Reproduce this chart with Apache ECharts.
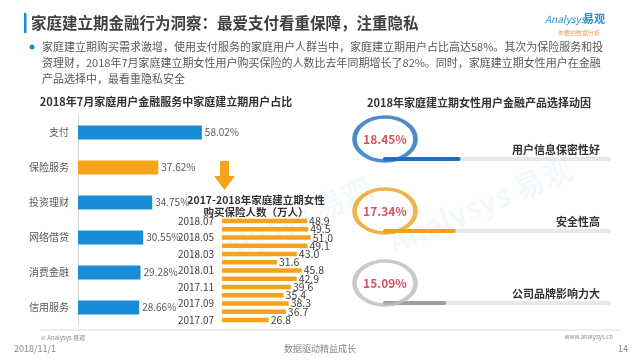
<!DOCTYPE html>
<html><head><meta charset="utf-8">
<script src="https://cdn.jsdelivr.net/npm/echarts@6/dist/echarts.min.js"></script>
<style>html,body{margin:0;padding:0;background:#fff}#c{width:640px;height:360px}</style>
</head><body><div id="c"></div>
<script>
// ---- data ----
const serviceCats = ['支付','保险服务','投资理财','网络借贷','消费金融','信用服务'];
const serviceShare = [58.02, 37.62, 34.75, 30.55, 29.28, 28.66];
const months = ['2018.07','2018.06','2018.05','2018.04','2018.03','2018.02','2018.01','2017.12','2017.11','2017.10','2017.09','2017.08','2017.07'];
const insuredWomen = [48.9, 49.5, 51.0, 49.1, 43.0, 31.6, 45.8, 42.9, 39.6, 35.4, 38.3, 36.7, 26.8];
const motiveCats = ['用户信息保密性好','安全性高','公司品牌影响力大'];
const motiveShare = [18.45, 17.34, 15.09];

const FONT = '"Noto Sans CJK SC","Noto Sans",sans-serif';
const BLUE = '#1a8bd6', ORANGE = '#f6a21d';
const ringColors = ['#1f6fc1', '#f0a01e', '#bdbdbd'];
const progColors = ['#1f6fc1', '#f0a01e', '#9e9e9e'];

const chart = echarts.init(document.getElementById('c'), null, {renderer: 'canvas'});
const txt = (x, y, text, font, fill, align, extra) => Object.assign({
  type: 'text', x, y, silent: true,
  style: {text, font, fill, align: align || 'left', verticalAlign: 'middle'}
}, extra || {});

chart.setOption({
  animation: false,
  textStyle: {fontFamily: FONT},
  grid: [
    {left: 78, top: 115, width: 213.5, height: 210},
    {left: 222, top: 217, width: 174, height: 107},
    {left: 383, top: 123, width: 227, height: 216}
  ],
  xAxis: [
    {gridIndex: 0, type: 'value', min: 0, max: 100, show: false},
    {gridIndex: 1, type: 'value', min: 0, max: 100, show: false},
    {gridIndex: 2, type: 'value', min: 0, max: 54, show: false}
  ],
  yAxis: [
    {gridIndex: 0, type: 'category', inverse: true, data: serviceCats,
     axisLine: {lineStyle: {color: '#d9d9d9'}}, axisTick: {show: false},
     axisLabel: {color: '#595959', fontSize: 10, margin: 9, fontFamily: FONT}},
    {gridIndex: 1, type: 'category', inverse: true, data: months,
     axisLine: {show: false}, axisTick: {show: false},
     axisLabel: {color: '#404040', fontSize: 10, margin: 8, interval: 1, fontFamily: FONT}},
    {gridIndex: 2, type: 'category', inverse: true, data: motiveCats, position: 'right',
     axisLine: {show: false}, axisTick: {show: false},
     axisLabel: {inside: true, margin: 10, color: '#333', fontSize: 11, fontWeight: 'bold',
       verticalAlign: 'bottom', padding: [0, 0, 4, 0], fontFamily: FONT}}
  ],
  series: [
    {type: 'bar', xAxisIndex: 0, yAxisIndex: 0, barWidth: 14, silent: true,
     data: serviceShare.map((v, i) => ({value: v, itemStyle: {color: i === 1 ? ORANGE : BLUE}})),
     label: {show: true, position: 'right', distance: 3, color: '#595959', fontSize: 10,
       formatter: p => p.value.toFixed(2) + '%'}},
    {type: 'bar', xAxisIndex: 1, yAxisIndex: 1, barWidth: 4.5, silent: true,
     itemStyle: {color: ORANGE}, data: insuredWomen,
     label: {show: true, position: 'right', distance: 2, color: '#404040', fontSize: 10.5,
       formatter: p => p.value.toFixed(1)}},
    {type: 'bar', xAxisIndex: 2, yAxisIndex: 2, barWidth: 4, silent: true,
     showBackground: true, backgroundStyle: {color: '#e8e8e8'},
     data: motiveShare.map((v, i) => ({value: v, itemStyle: {color: progColors[i], borderRadius: 2}}))},
    {type: 'scatter', xAxisIndex: 2, yAxisIndex: 2, clip: false, silent: true, z: 5,
     symbol: 'circle', symbolSize: [61, 44], symbolOffset: [2, -20],
     data: motiveShare.map((v, i) => ({value: [0, i],
       itemStyle: {color: 'rgba(255,255,255,0)', borderColor: ringColors[i], borderWidth: 4}})),
     label: {show: true, position: 'inside', color: '#c8283a', fontWeight: 'bold', fontSize: 12,
       formatter: p => motiveShare[p.dataIndex].toFixed(2) + '%'}}
  ],
  graphic: [
    // faint watermarks
    txt(280, 225, 'Analysys 易观', 'bold 30px ' + FONT, 'rgba(190,215,235,0.18)', 'center', {rotation: 0.4}),
    txt(480, 205, 'Analysys 易观', 'bold 30px ' + FONT, 'rgba(190,215,235,0.18)', 'center', {rotation: 0.4}),
    // header
    {type: 'rect', silent: true, shape: {x: 24, y: 13, width: 2.5, height: 20}, style: {fill: BLUE}},
    txt(31, 23, '家庭建立期金融行为洞察：最爱支付看重保障，注重隐私', 'bold 15.5px ' + FONT, '#404040'),
    txt(545, 19, 'Analysys', 'italic 10px ' + FONT, '#2a8fd4'),
    txt(583, 19, '易观', 'bold 11px ' + FONT, '#2a8fd4'),
    txt(600, 33, '你要的数据分析', '6px ' + FONT, '#f0a050', 'right'),
    {type: 'circle', silent: true, shape: {cx: 32, cy: 47, r: 2.5}, style: {fill: BLUE}},
    {type: 'text', x: 42, y: 39, silent: true, style: {
      text: '家庭建立期购买需求激增，使用支付服务的家庭用户人群当中，家庭建立期用户占比高达58%。其次为保险服务和投\n资理财，2018年7月家庭建立期女性用户购买保险的人数比去年同期增长了82%。同时，家庭建立期女性用户在金融\n产品选择中，最看重隐私安全',
      font: '11px ' + FONT, fill: '#595959', lineHeight: 16}},
    // chart titles
    txt(166, 102, '2018年7月家庭用户金融服务中家庭建立期用户占比', 'bold 11px ' + FONT, '#333', 'center'),
    txt(479, 103, '2018年家庭建立期女性用户金融产品选择动因', 'bold 11px ' + FONT, '#333', 'center'),
    txt(256, 200, '2017-2018年家庭建立期女性', 'bold 10.5px ' + FONT, '#333', 'center'),
    txt(256, 212, '购买保险人数（万人）', 'bold 10.5px ' + FONT, '#333', 'center'),
    // arrow
    {type: 'polygon', silent: true, shape: {points: [[220,161],[229,161],[229,176],[235,176],[224.5,190],[214,176],[220,176]]}, style: {fill: ORANGE}},
    // footer
    {type: 'line', silent: true, shape: {x1: 40, y1: 330, x2: 620, y2: 330}, style: {stroke: '#dcdcdc', lineWidth: 1}},
    txt(41, 338, '© Analysys 易观', '6px ' + FONT, '#888'),
    txt(613, 337, 'www.analysys.cn', '6px ' + FONT, '#888', 'right'),
    txt(14, 349, '2018/11/1', '9px ' + FONT, '#888'),
    txt(320, 349, '数据驱动精益成长', '9px ' + FONT, '#888', 'center'),
    txt(628, 349, '14', '9px ' + FONT, '#888', 'right')
  ]
});
</script></body></html>
